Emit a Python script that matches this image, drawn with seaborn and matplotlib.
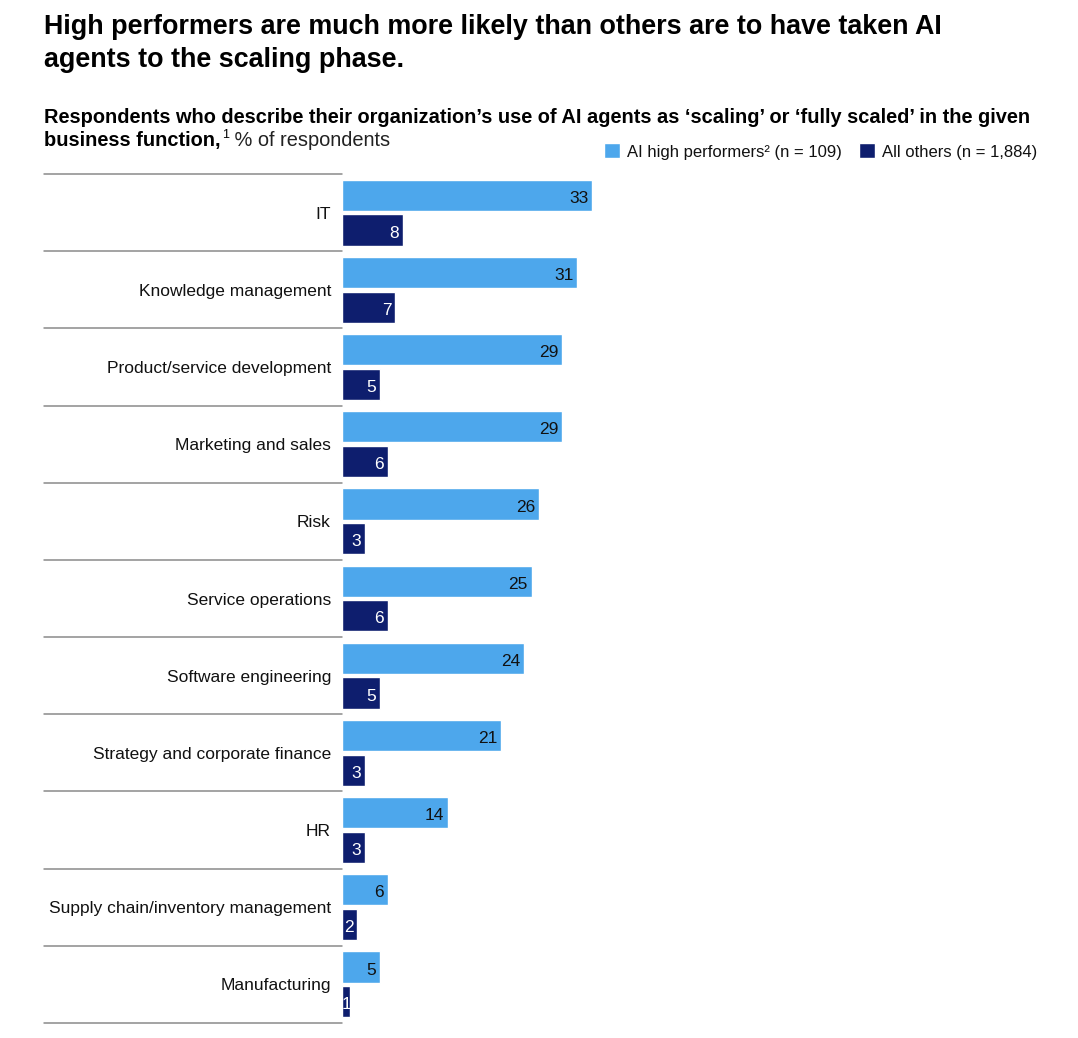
import matplotlib
matplotlib.use("Agg")
import matplotlib.pyplot as plt
import pandas as pd
import seaborn as sns

functions = [
    "IT",
    "Knowledge management",
    "Product/service development",
    "Marketing and sales",
    "Risk",
    "Service operations",
    "Software engineering",
    "Strategy and corporate finance",
    "HR",
    "Supply chain/inventory management",
    "Manufacturing",
]
high_performers = [33, 31, 29, 29, 26, 25, 24, 21, 14, 6, 5]
all_others = [8, 7, 5, 6, 3, 6, 5, 3, 3, 2, 1]
group_labels = ["AI high performers² (n = 109)", "All others (n = 1,884)"]

LIGHT = "#4DA7EC"
DARK = "#0E1E6E"
W, H = 1078, 1038

sns.set_style("white")
plt.rcParams["font.family"] = ["Liberation Sans", "DejaVu Sans"]
plt.rcParams["text.color"] = "#111111"

df = pd.DataFrame({
    "function": functions * 2,
    "value": high_performers + all_others,
    "group": [group_labels[0]] * len(functions) + [group_labels[1]] * len(functions),
})

fig = plt.figure(figsize=(W / 100, H / 100), dpi=100)
ax = fig.add_axes([342 / W, 1 - 1023 / H, (1040 - 342) / W, (1023 - 174) / H])

sns.barplot(data=df, y="function", x="value", hue="group", orient="h",
            palette=[LIGHT, DARK], saturation=1, width=0.9, gap=0.1, ax=ax)

ax.set_xlim(0, 92)
ax.set_ylim(len(functions) - 0.5, -0.5)
ax.set_xlabel("")
ax.set_ylabel("")
ax.set_xticks([])
sns.despine(ax=ax, left=True, bottom=True)
ax.tick_params(axis="y", length=0, pad=8, labelsize=12.5, labelcolor="#111111")

# row separators extending left of the bars
trans = ax.get_yaxis_transform()
for k in range(len(functions) + 1):
    ax.plot([-(342 - 44) / (1040 - 342), 0], [k - 0.5, k - 0.5], transform=trans,
            color="#8a8a8a", lw=1.1, clip_on=False)

# value labels inside bar ends
for container, color in zip(ax.containers, ["#111111", "white"]):
    for bar in container:
        v = bar.get_width()
        yc = bar.get_y() + bar.get_height() / 2
        ax.text(max(v - 0.5, 1.2), yc + 0.04, f"{v:.0f}", ha="right", va="center",
                fontsize=12.5, color=color)

sns.move_legend(ax, "lower right", bbox_to_anchor=(0.996, 1.017), ncol=2, title=None,
                frameon=False, fontsize=12, handlelength=1.0, handleheight=1.0,
                handletextpad=0.4, columnspacing=1.0, borderaxespad=0, borderpad=0)

fig.text(44 / W, 1 - 34 / H, "High performers are much more likely than others are to have taken AI",
         fontsize=19.4, fontweight="bold", va="baseline", color="black")
fig.text(44 / W, 1 - 67 / H, "agents to the scaling phase.",
         fontsize=19.4, fontweight="bold", va="baseline", color="black")

fig.text(44 / W, 1 - 123 / H,
         "Respondents who describe their organization\u2019s use of AI agents as \u2018scaling\u2019 or \u2018fully scaled\u2019 in the given",
         fontsize=14.4, fontweight="bold", va="baseline", color="black")
sub2 = fig.text(44 / W, 1 - 146 / H, "business function,", fontsize=14.4, fontweight="bold",
                va="baseline", color="black")
sup = ax.annotate("1", xy=(1, 1), xycoords=sub2, xytext=(1, -7), textcoords="offset points",
                  fontsize=9, va="bottom", annotation_clip=False, color="black")
ax.annotate(" % of respondents", xy=(1, 0), xycoords=(sup, sub2), fontsize=14.4,
            va="bottom", annotation_clip=False, color="#222222")

fig.savefig("out.png", dpi=100)
